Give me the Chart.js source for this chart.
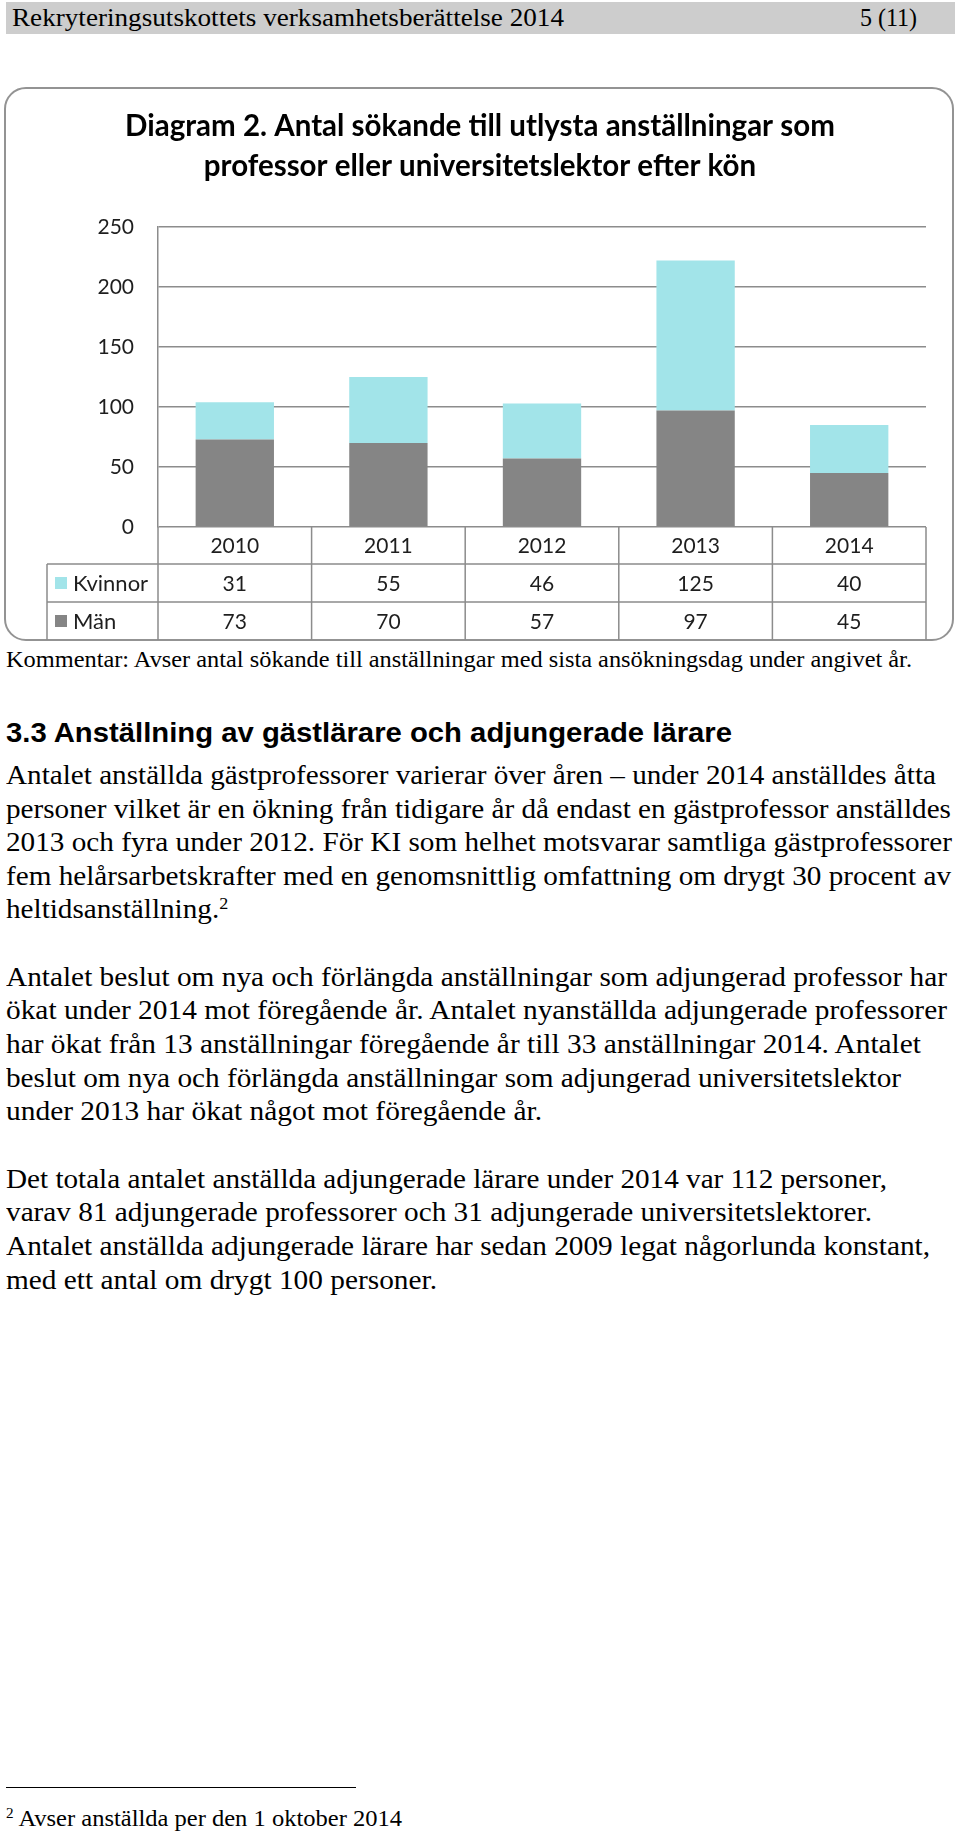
<!DOCTYPE html>
<html>
<head>
<meta charset="utf-8">
<script src="https://cdn.jsdelivr.net/npm/chart.js@4.4.0/dist/chart.umd.min.js"></script>
<style>
  body { margin: 0; width: 960px; height: 1831px; position: relative; background: #fff; overflow: hidden;
         font-family: "Liberation Serif", "Times New Roman", serif; color: #000; }
  #hdr { position: absolute; left: 6px; top: 2px; width: 949px; height: 32px; background: #cdcdcd; }
  #box { position: absolute; left: 4px; top: 87px; width: 946px; height: 550px; border: 2px solid #939393; border-radius: 22px; }
  #wrap { position: absolute; left: 6px; top: 88px; width: 948px; height: 552px; }
  .ln { position: absolute; white-space: nowrap; line-height: 1; transform-origin: 0 50%; }
  .ln sup { font-size: 0.62em; vertical-align: 0; position: relative; top: -0.55em; }
  #rule { position: absolute; left: 6px; top: 1787px; width: 350px; height: 0; border-top: 1.5px solid #000; }
</style>
</head>
<body>
<div id="hdr"></div>
<div id="box"></div>
<div id="wrap"><canvas id="chart" width="948" height="552"></canvas></div>
<div id="rule"></div>

<script>
// chart data
const years = ['2010', '2011', '2012', '2013', '2014'];
const kvinnor = [31, 55, 46, 125, 40];
const man = [73, 70, 57, 97, 45];
const seriesNames = ['Kvinnor', 'Män'];
const yMax = 250;
const yStep = 50;

const cyan = '#a2e4e9';
const grey = '#858585';
const lineGrey = '#8c8c8c';

// the data table under the plot, drawn from the x scale
const dataTable = {
  id: 'dataTable',
  afterDraw(chart) {
    const ctx = chart.ctx;
    const a = chart.chartArea;
    const x = chart.scales.x;
    const half = (x.getPixelForValue(1) - x.getPixelForValue(0)) / 2;
    const rowLeft = 41;
    const r0 = a.bottom, r1 = r0 + 37, r2 = r1 + 38, r3 = r2 + 38;

    ctx.save();
    ctx.strokeStyle = lineGrey;
    ctx.lineWidth = 1.5;
    ctx.beginPath();
    // vertical lines
    ctx.moveTo(a.left, r0); ctx.lineTo(a.left, r3);
    years.forEach((y, i) => {
      const xr = x.getPixelForValue(i) + half;
      ctx.moveTo(xr, r0); ctx.lineTo(xr, r3);
    });
    ctx.moveTo(rowLeft, r1); ctx.lineTo(rowLeft, r3);
    // horizontal lines
    [r1, r2].forEach(yy => { ctx.moveTo(rowLeft, yy); ctx.lineTo(x.getPixelForValue(years.length - 1) + half, yy); });
    ctx.stroke();

    ctx.fillStyle = '#1e1e1e';
    ctx.font = '21px Lato, "Open Sans", sans-serif';
    ctx.textAlign = 'center';
    ctx.textBaseline = 'middle';
    years.forEach((y, i) => {
      const cx = x.getPixelForValue(i);
      ctx.fillText(y, cx, (r0 + r1) / 2 + 1);
      ctx.fillText(String(kvinnor[i]), cx, (r1 + r2) / 2 + 1);
      ctx.fillText(String(man[i]), cx, (r2 + r3) / 2 + 1);
    });

    // row headers with legend keys
    ctx.textAlign = 'left';
    ctx.font = '22px Lato, "Open Sans", sans-serif';
    [[seriesNames[0], cyan, r1, r2], [seriesNames[1], grey, r2, r3]].forEach(([name, col, t, b]) => {
      const cy = (t + b) / 2;
      ctx.fillStyle = col;
      ctx.fillRect(49, cy - 6, 12, 12);
      ctx.fillStyle = '#1e1e1e';
      ctx.fillText(name, 67, cy + 1);
    });
    ctx.restore();
  }
};

new Chart(document.getElementById('chart'), {
  type: 'bar',
  data: {
    labels: years,
    datasets: [
      { label: seriesNames[1], data: man, backgroundColor: grey },
      { label: seriesNames[0], data: kvinnor, backgroundColor: cyan }
    ]
  },
  options: {
    responsive: false,
    animation: false,
    devicePixelRatio: 1,
    layout: { padding: { left: 28, right: 28, top: 0, bottom: 113 } },
    datasets: { bar: { categoryPercentage: 1, barPercentage: 0.51 } },
    plugins: {
      legend: { display: false },
      tooltip: { enabled: false },
      title: {
        display: true,
        text: ['Diagram 2. Antal sökande till utlysta anställningar som', 'professor eller universitetslektor efter kön'],
        color: '#000',
        font: { family: 'Lato', weight: 'bold', size: 29.5, lineHeight: 40 / 29.5 },
        padding: { top: 18, bottom: 41 }
      }
    },
    scales: {
      x: {
        stacked: true,
        grid: { display: false, drawTicks: false },
        border: { display: false },
        ticks: { display: false },
        afterFit(s) { s.height = 0; }
      },
      y: {
        stacked: true,
        min: 0,
        max: yMax,
        ticks: { stepSize: yStep, padding: 24, color: '#1e1e1e', font: { family: 'Lato', size: 21 } },
        grid: { color: lineGrey, lineWidth: 1.5, drawTicks: false },
        border: { display: true, color: lineGrey, width: 1.5 },
        afterFit(s) { s.width = 124; }
      }
    }
  },
  plugins: [dataTable]
});

// page text, one line each: text, centre y, left x, width to fit, size, font
const serif = '"Liberation Serif", "Times New Roman", serif';
const sans = '"Liberation Sans", Arial, sans-serif';
const lines = [
  ['Rekryteringsutskottets verksamhetsberättelse 2014', 18, 12, 552, 26, serif, 'normal'],
  ['5 (11)', 18, 860, 57, 26, serif, 'normal'],
  ['Kommentar: Avser antal sökande till anställningar med sista ansökningsdag under angivet år.', 659, 6, 906, 24, serif, 'normal'],
  ['3.3 Anställning av gästlärare och adjungerade lärare', 733, 6, 726, 27, sans, 'bold'],
  ['Antalet anställda gästprofessorer varierar över åren – under 2014 anställdes åtta', 775, 6, 930, 27.5, serif, 'normal'],
  ['personer vilket är en ökning från tidigare år då endast en gästprofessor anställdes', 809, 6, 945, 27.5, serif, 'normal'],
  ['2013 och fyra under 2012. För KI som helhet motsvarar samtliga gästprofessorer', 842, 6, 946, 27.5, serif, 'normal'],
  ['fem helårsarbetskrafter med en genomsnittlig omfattning om drygt 30 procent av', 876, 6, 945, 27.5, serif, 'normal'],
  ['heltidsanställning.<sup>2</sup>', 909, 6, 0, 27.5, serif, 'normal'],
  ['Antalet beslut om nya och förlängda anställningar som adjungerad professor har', 977, 6, 941, 27.5, serif, 'normal'],
  ['ökat under 2014 mot föregående år. Antalet nyanställda adjungerade professorer', 1010, 6, 941, 27.5, serif, 'normal'],
  ['har ökat från 13 anställningar föregående år till 33 anställningar 2014. Antalet', 1044, 6, 915, 27.5, serif, 'normal'],
  ['beslut om nya och förlängda anställningar som adjungerad universitetslektor', 1078, 6, 895, 27.5, serif, 'normal'],
  ['under 2013 har ökat något mot föregående år.', 1111, 6, 536, 27.5, serif, 'normal'],
  ['Det totala antalet anställda adjungerade lärare under 2014 var 112 personer,', 1179, 6, 881, 27.5, serif, 'normal'],
  ['varav 81 adjungerade professorer och 31 adjungerade universitetslektorer.', 1212, 6, 866, 27.5, serif, 'normal'],
  ['Antalet anställda adjungerade lärare har sedan 2009 legat någorlunda konstant,', 1246, 6, 924, 27.5, serif, 'normal'],
  ['med ett antal om drygt 100 personer.', 1280, 6, 431, 27.5, serif, 'normal'],
  ['<sup>2</sup> Avser anställda per den 1 oktober 2014', 1819, 6, 396, 23.5, serif, 'normal']
];

let bodyScale = 1;
lines.forEach(([txt, cy, left, w, size, fam, weight]) => {
  const d = document.createElement('div');
  d.className = 'ln';
  d.innerHTML = txt;
  d.style.fontFamily = fam;
  d.style.fontSize = size + 'px';
  d.style.fontWeight = weight;
  d.style.left = left + 'px';
  d.style.top = (cy - size / 2) + 'px';
  document.body.appendChild(d);
  const nat = d.getBoundingClientRect().width;
  const s = w ? w / nat : bodyScale;
  if (w && size === 27.5) bodyScale = s;
  d.style.transform = 'scaleX(' + s.toFixed(4) + ')';
});
</script>
</body>
</html>
